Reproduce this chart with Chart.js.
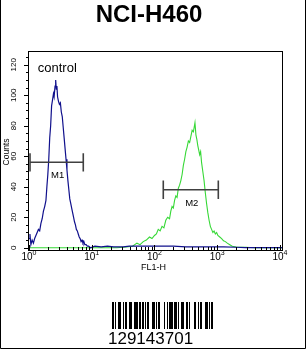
<!DOCTYPE html>
<html>
<head>
<meta charset="utf-8">
<script src="https://cdn.jsdelivr.net/npm/chart.js@4/dist/chart.umd.min.js"></script>
<style>
  html, body { margin: 0; padding: 0; background: #fff; }
</style>
</head>
<body>
<canvas id="chart" width="306" height="350"></canvas>
<script>
const FONT = "'Liberation Sans', Arial, sans-serif";

// FL1-H position in decades (log10) and event counts
const controlX = [
  0.00, 0.015, 0.03, 0.05, 0.07, 0.09, 0.11, 0.13, 0.15, 0.17,
  0.19, 0.21, 0.23, 0.25, 0.27, 0.285, 0.30, 0.315, 0.33, 0.345,
  0.36, 0.375, 0.39, 0.40, 0.415, 0.425, 0.435, 0.445, 0.455, 0.47,
  0.485, 0.50, 0.515, 0.53, 0.545, 0.56, 0.575, 0.59, 0.605, 0.62,
  0.635, 0.65, 0.665, 0.68, 0.695, 0.71, 0.725, 0.74, 0.755, 0.77,
  0.785, 0.80, 0.815, 0.83, 0.845, 0.86, 0.875, 0.89, 0.91, 0.93,
  0.95, 0.98, 1.05, 1.15, 1.25, 1.35, 1.50, 1.60, 1.75, 1.90,
  2.10, 2.30, 2.50, 2.70, 2.90, 3.10, 3.30, 3.45, 4.05
];
const controlY = [
  6, 9, 2, 5, 3, 6, 8, 10, 12, 11,
  16, 19, 24, 27, 31, 40, 48, 58, 72, 80,
  93, 97, 101, 99, 106, 110, 104, 106, 99, 96,
  94, 95, 89, 86, 79, 72, 65, 58, 51, 44,
  38, 32, 29, 26, 23, 20, 17, 15, 12, 11,
  9, 7, 6, 4, 5, 3, 4, 2, 2, 1,
  1, 0, 1, 0.5, 1, 0.5, 0.5, 1, 1, 1,
  1, 1, 0.5, 0.5, 0.5, 0.5, 0.3, 0, 0
];
const sampleX = [
  0.00, 0.80, 1.40, 1.55, 1.65, 1.72, 1.77, 1.82, 1.87, 1.92,
  1.96, 2.00, 2.03, 2.06, 2.09, 2.12, 2.15, 2.18, 2.21, 2.24,
  2.26, 2.28, 2.30, 2.32, 2.34, 2.36, 2.38, 2.40, 2.42, 2.44,
  2.46, 2.48, 2.50, 2.52, 2.54, 2.56, 2.58, 2.60, 2.62, 2.645,
  2.66, 2.675, 2.69, 2.705, 2.72, 2.735, 2.75, 2.77, 2.79, 2.81,
  2.83, 2.85, 2.87, 2.89, 2.91, 2.93, 2.95, 2.97, 2.99, 3.01,
  3.04, 3.07, 3.10, 3.13, 3.16, 3.20, 3.24, 3.30, 3.45, 3.60,
  4.05
];
const sampleY = [
  0, 0, 0, 0.5, 1, 3, 2, 4, 5, 7,
  6, 8, 9, 12, 11, 14, 13, 18, 20, 19,
  24, 27, 26, 31, 34, 33, 39, 41, 44, 48,
  54, 58, 63, 66, 70, 69, 73, 77, 76, 82,
  74, 71, 67, 64, 61, 63, 56, 50, 44, 36,
  29, 23, 18, 14, 12, 10, 11, 9, 10, 8,
  7, 6, 4.5, 4, 3, 2, 1, 0.5, 0.3, 0,
  0
];

// gate markers
const markerNames = ['M1', 'M2'];
const markerFrom = [0.016, 2.14];
const markerTo = [0.865, 3.017];
const markerLevel = [56, 38];

const yTicks = [0, 20, 40, 60, 80, 100, 120];
const xDecades = [0, 1, 2, 3, 4];
const barcodeText = '129143701';

const CAP = 6;
const markerSets = markerNames.map((n, i) => {
  const a = markerFrom[i], b = markerTo[i], l = markerLevel[i];
  return {
    label: n,
    data: [{x: a, y: l + CAP}, {x: a, y: l - CAP}, {x: a, y: l},
           {x: b, y: l}, {x: b, y: l + CAP}, {x: b, y: l - CAP}],
    borderColor: '#404040',
    borderWidth: 1.6,
    pointRadius: 0
  };
});

// code 128 bar/space widths for the label number
const C128 = {
  105: '211232', 12: '112232', 91: '412121', 43: '112331', 70: '112412',
  100: '114131', 17: '123221', 74: '142211', stop: '2331112'
};
const barcodeCodes = [105, 12, 91, 43, 70, 100, 17, 74, 'stop'];

const decor = {
  id: 'decor',
  beforeDraw(chart) {
    const ctx = chart.ctx;
    ctx.save();
    ctx.fillStyle = '#fff';
    ctx.fillRect(0, 0, chart.width, chart.height);
    ctx.restore();
  },
  afterDraw(chart) {
    const {ctx, chartArea: a} = chart;
    const x = chart.scales.x, y = chart.scales.y;
    ctx.save();
    ctx.strokeStyle = '#000';
    ctx.lineWidth = 1;
    ctx.strokeRect(a.left + 0.5, a.top + 0.5, a.right - a.left - 1, a.bottom - a.top);

    // y ticks, major every 20, minor every 5
    ctx.beginPath();
    for (let v = 0; v <= 125; v += 5) {
      const py = Math.round(y.getPixelForValue(v)) + 0.5;
      const len = v % 20 === 0 ? 4 : 2;
      ctx.moveTo(a.left - len, py);
      ctx.lineTo(a.left, py);
    }
    // x ticks, log minor ticks pointing into the plot
    for (let n = 0; n < 4; n++) {
      for (let k = 1; k <= 9; k++) {
        const px = Math.round(x.getPixelForValue(n + Math.log10(k))) + 0.5;
        const len = k === 1 ? 5 : 3;
        ctx.moveTo(px, a.bottom);
        ctx.lineTo(px, a.bottom - len);
      }
    }
    const p4 = Math.round(x.getPixelForValue(4)) + 0.5;
    ctx.moveTo(p4, a.bottom);
    ctx.lineTo(p4, a.bottom - 5);
    ctx.stroke();

    // x tick labels 10^n
    ctx.fillStyle = '#000';
    ctx.textBaseline = 'alphabetic';
    ctx.textAlign = 'left';
    xDecades.forEach(d => {
      const px = x.getPixelForValue(d);
      ctx.font = '10px ' + FONT;
      const w1 = ctx.measureText('10').width;
      ctx.font = '7px ' + FONT;
      const w2 = ctx.measureText(String(d)).width;
      const start = px - (w1 + w2) / 2;
      ctx.font = '10px ' + FONT;
      ctx.fillText('10', start, a.bottom + 10);
      ctx.font = '7px ' + FONT;
      ctx.fillText(String(d), start + w1, a.bottom + 5);
    });

    // axis titles
    ctx.textAlign = 'center';
    ctx.textBaseline = 'middle';
    ctx.font = '9px ' + FONT;
    ctx.fillText('FL1-H', (a.left + a.right) / 2 - 2, a.bottom + 18);
    ctx.save();
    ctx.translate(7, 152);
    ctx.rotate(-Math.PI / 2);
    ctx.font = '8.5px ' + FONT;
    ctx.fillText('Counts', 0, 0);
    ctx.restore();

    // in-plot labels
    ctx.font = '13px ' + FONT;
    ctx.textAlign = 'left';
    ctx.fillText('control', x.getPixelForValue(0.14), y.getPixelForValue(117.5));
    ctx.textAlign = 'center';
    ctx.font = '9.5px ' + FONT;
    markerNames.forEach((n, i) => {
      const mid = (markerFrom[i] + markerTo[i]) / 2;
      ctx.fillText(n, x.getPixelForValue(mid) + 1, y.getPixelForValue(markerLevel[i]) + 13.5);
    });

    // barcode
    let bx = 112;
    barcodeCodes.forEach(c => {
      const pat = C128[c];
      for (let i = 0; i < pat.length; i++) {
        const w = +pat[i];
        if (i % 2 === 0) ctx.fillRect(bx, 302, w, 27);
        bx += w;
      }
    });
    ctx.font = '17px ' + FONT;
    ctx.textAlign = 'left';
    ctx.textBaseline = 'alphabetic';
    ctx.fillText(barcodeText, 108, 344);

    // image border
    ctx.beginPath();
    ctx.moveTo(0.5, 0);
    ctx.lineTo(0.5, 348.5);
    ctx.lineTo(305.5, 348.5);
    ctx.lineTo(305.5, 0);
    ctx.stroke();
    ctx.restore();
  }
};

new Chart(document.getElementById('chart'), {
  type: 'line',
  data: {
    datasets: [
      ...markerSets,
      {
        label: 'control',
        data: controlX.map((v, i) => ({x: v, y: controlY[i]})),
        borderColor: '#10108c',
        borderWidth: 1.2,
        pointRadius: 0
      },
      {
        label: 'NCI-H460',
        data: sampleX.map((v, i) => ({x: v, y: sampleY[i]})),
        borderColor: '#36d836',
        borderWidth: 1.1,
        pointRadius: 0
      }
    ]
  },
  options: {
    responsive: false,
    animation: false,
    devicePixelRatio: 1,
    layout: {padding: {left: 0, right: 8, top: 0, bottom: 0}},
    elements: {line: {tension: 0, fill: false}},
    plugins: {
      legend: {display: false},
      tooltip: {enabled: false},
      title: {
        display: true,
        text: 'NCI-H460',
        color: '#000',
        font: {family: FONT, size: 24, weight: 'bold'},
        padding: {top: 1, bottom: 21.2}
      }
    },
    scales: {
      x: {
        type: 'linear',
        min: -0.016,
        max: 4.048,
        afterBuildTicks: s => { s.ticks = xDecades.map(v => ({value: v})); },
        ticks: {display: false},
        grid: {display: false},
        border: {display: false},
        afterFit: s => { s.height = 100; }
      },
      y: {
        type: 'linear',
        min: -1.5,
        max: 129,
        afterBuildTicks: s => { s.ticks = yTicks.map(v => ({value: v})); },
        ticks: {
          minRotation: 90,
          maxRotation: 90,
          crossAlign: 'center',
          padding: 0,
          color: '#000',
          font: {family: FONT, size: 8}
        },
        grid: {display: false},
        border: {display: false},
        afterFit: s => { s.width = 28; }
      },
      y2: {
        type: 'linear',
        position: 'right',
        ticks: {display: false},
        grid: {display: false},
        border: {display: false},
        afterFit: s => { s.width = 15; }
      }
    }
  },
  plugins: [decor]
});
</script>
</body>
</html>
